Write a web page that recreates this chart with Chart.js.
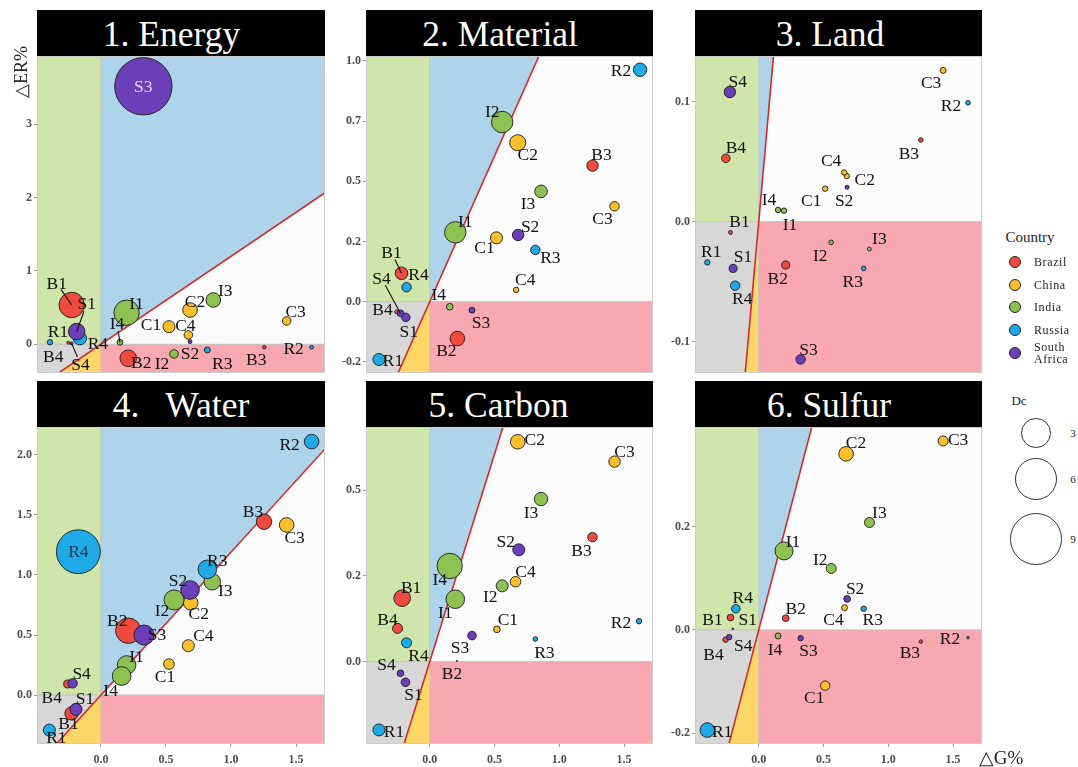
<!DOCTYPE html>
<html><head><meta charset="utf-8">
<script src="https://cdn.jsdelivr.net/npm/chart.js@4.4.0/dist/chart.umd.min.js"></script>
<style>
body{margin:0;background:#fff;width:1078px;height:767px;position:relative;overflow:hidden;font-family:'Liberation Serif',serif;}
.strip{position:absolute;background:#000;color:#fff;font-size:35.5px;text-align:center;white-space:pre;height:46px;line-height:48px;box-sizing:border-box;}
canvas{position:absolute;}
.abs{position:absolute;white-space:pre;color:#222;}
.dot{position:absolute;border-radius:50%;border:1px solid #222;box-sizing:border-box;}
</style></head><body>
<script>
// ---------- DATA ----------
const codes = ['B1','B2','B3','B4','C1','C2','C3','C4','I1','I2','I3','I4','R1','R2','R3','R4','S1','S2','S3','S4'];
const countries = ['Brazil','China','India','Russia','South Africa'];
const panelTitles = ['1. Energy','2. Material','3. Land','4.   Water','5. Carbon','6. Sulfur'];

const energyX = [-0.225,0.21,1.256,-0.251, 0.523,0.685,1.428,0.672, 0.197,0.562,0.864,0.146, -0.392,1.62,0.818,-0.162, -0.187,0.685,0.326,-0.226];
const energyY = [0.536,-0.191,-0.041,0.02, 0.24,0.468,0.318,0.127, 0.431,-0.132,0.604,0.027, 0.027,-0.041,-0.078,0.082, 0.172,0.036,3.52,0.012];
const energyDc = [2.18,0.93,0.04,0.03, 0.49,0.72,0.25,0.25, 2.18,0.25,0.72,0.12, 0.1,0.05,0.12,0.6, 0.93,0.05,11.1,0.03];

const materialX = [-0.218,0.213,1.256,-0.256, 0.515,0.679,1.426,0.667, 0.197,0.559,0.859,0.154, -0.392,1.623,0.815,-0.179, -0.185,0.682,0.326,-0.226];
const materialY = [0.118,-0.153,0.565,-0.042, 0.265,0.66,0.396,0.049, 0.288,0.746,0.458,-0.021, -0.24,0.963,0.215,0.06, -0.065,0.277,-0.035,-0.048];
const materialDc = [0.54,0.72,0.44,0.05, 0.49,0.87,0.3,0.1, 1.55,1.55,0.54,0.15, 0.49,0.61,0.3,0.3, 0.25,0.44,0.12,0.15];

const landX = [-0.218,0.208,1.251,-0.254, 0.513,0.679,1.423,0.659, 0.195,0.559,0.854,0.149, -0.397,1.615,0.81,-0.182, -0.198,0.682,0.323,-0.223];
const landY = [-0.0089,-0.0361,0.068,0.0528, 0.0275,0.038,0.126,0.041, 0.0092,-0.0172,-0.0228,0.0098, -0.0339,0.099,-0.0389,-0.0533, -0.0389,0.0287,-0.1147,0.108];
const landDc = [0.054,0.22,0.072,0.25, 0.1,0.1,0.12,0.1, 0.1,0.072,0.054,0.1, 0.1,0.072,0.072,0.3, 0.22,0.054,0.3,0.44];

const waterX = [-0.226,0.21,1.254,-0.256, 0.523,0.69,1.428,0.672, 0.197,0.562,0.856,0.159, -0.397,1.62,0.818,-0.174, -0.192,0.685,0.331,-0.218];
const waterY = [-0.153,0.536,1.444,0.092, 0.258,0.769,1.417,0.411, 0.25,0.792,0.944,0.158, -0.292,2.111,1.047,1.194, -0.119,0.875,0.5,0.097];
const waterDc = [0.61,2.18,0.8,0.22, 0.38,0.72,0.72,0.49, 1.17,1.35,0.93,1.17, 0.49,0.72,1.17,6.5, 0.49,1.17,1.35,0.3];

const carbonX = [-0.213,0.21,1.256,-0.249, 0.518,0.679,1.426,0.662, 0.197,0.559,0.859,0.154, -0.392,1.615,0.815,-0.179, -0.187,0.687,0.326,-0.226];
const carbonY = [0.185,0.002,0.363,0.097, 0.094,0.641,0.583,0.233, 0.182,0.221,0.474,0.279, -0.199,0.118,0.066,0.055, -0.06,0.326,0.076,-0.034];
const carbonDc = [0.93,0.005,0.3,0.34, 0.15,0.72,0.44,0.38, 1.17,0.49,0.61,2.18, 0.49,0.1,0.072,0.34, 0.25,0.49,0.25,0.15];

const sulfurX = [-0.218,0.208,1.251,-0.256, 0.513,0.674,1.423,0.662, 0.195,0.559,0.854,0.149, -0.397,1.615,0.81,-0.177, -0.2,0.682,0.323,-0.228];
const sulfurY = [0.024,0.0226,-0.0226,-0.019, -0.108,0.341,0.366,0.043, 0.153,0.119,0.208,-0.0116, -0.194,-0.0149,0.041,0.041, 0.002,0.06,-0.016,-0.014];
const sulfurDc = [0.15,0.15,0.04,0.1, 0.3,0.72,0.34,0.12, 1.1,0.34,0.34,0.12, 0.72,0.023,0.1,0.25, 0.01,0.15,0.1,0.1];

const decouplingSlopes = [1.2,1.21,1.21,1.19,1.21,0.96];

const yTicks1 = [0,1,2,3];           const yTickLabels1 = ['0','1','2','3'];
const yTicks2 = [-0.25,0,0.25,0.5,0.75,1]; const yTickLabels2 = ['-0.2','0.0','0.2','0.5','0.7','1.0'];
const yTicks3 = [-0.1,0,0.1];        const yTickLabels3 = ['-0.1','0.0','0.1'];
const yTicks4 = [0,0.5,1,1.5,2];     const yTickLabels4 = ['0.0','0.5','1.0','1.5','2.0'];
const yTicks5 = [0,0.25,0.5];        const yTickLabels5 = ['0.0','0.2','0.5'];
const yTicks6 = [-0.2,0,0.2];        const yTickLabels6 = ['-0.2','0.0','0.2'];
const xTicks = [0,0.5,1,1.5];        const xTickLabels = ['0.0','0.5','1.0','1.5'];
const dcLegendValues = [3,6,9];

// ---------- LAYOUT / STYLE ----------
const countryColors = ['#ef4a3e','#fbbf2b','#8dc253','#1ea9e8','#6a3fb8'];
const bg = {green:'#cfe5a9',blue:'#aed4eb',pink:'#f9a8b2',grey:'#d7d7d7',yellow:'#fcd768',white:'#fbfbfb'};
const rOf = dc => 8.6*Math.sqrt(dc);
const xRange = [-0.492,1.723];
const yRanges = [[-0.392,3.933],[-0.296,1.02],[-0.126,0.138],[-0.408,2.233],[-0.24,0.684],[-0.221,0.393]];
const plotRects = [[37,56,325,373],[366,56,653,373],[695,56,982,373],[37,427,325,744],[366,427,653,744],[695,427,982,744]];
const titleShift = [19,19,17,0,22,19];
const labelNudges = [
 {B1:[-15,-22],S1:[10,-28],R1:[8,-11],R4:[18,5],B4:[-15,14],S4:[9,21],I1:[10,-9],I4:[-3,-19],C1:[-18,-2],C4:[-3,-10],C2:[5,-9],I3:[12,-10],C3:[9,-10],R2:[-18,1],B3:[-8,12],R3:[15,13],I2:[-12,9],S2:[0,12],B2:[13,4],S3:[0,0]},
 {R2:[-19,1],I2:[-10,-11],C2:[10,12],B3:[9,-11],I3:[-13,12],C3:[-12,12],I1:[10,-11],C1:[-12,10],S2:[12,-9],R3:[15,7],C4:[9,-10],B1:[-10,-21],R4:[12,-13],S4:[-19,-35],B4:[-14,-2],S1:[3,14],I4:[-11,-12],S3:[9,12],B2:[-11,12],R1:[14,1]},
 {S4:[8,-11],B4:[10,-11],C3:[-12,12],R2:[-17,3],B3:[-12,13],C4:[-13,-12],C2:[18,3],S2:[-3,13],C1:[-14,12],I4:[-9,-11],I1:[6,14],B1:[9,-11],R1:[4,-11],S1:[10,-12],R4:[7,13],B2:[-8,13],I2:[-11,13],I3:[10,-11],R3:[-11,13],S3:[8,-10]},
 {R2:[-22,3],B3:[-11,-10],C3:[8,12],R4:[0,0],R3:[10,-9],I3:[13,9],S2:[-12,-10],I2:[-12,10],C2:[8,11],B2:[-11,-10],S3:[13,-1],C4:[15,-10],C1:[-4,12],I1:[10,-9],I4:[-11,14],S4:[9,-10],B4:[-16,13],S1:[9,-11],B1:[-3,10],R1:[7,7]},
 {C2:[17,-2],C3:[10,-10],I3:[-10,13],B3:[-11,13],S2:[-13,-8],I4:[-10,13],C4:[10,-10],I2:[-12,11],I1:[-10,13],B1:[9,-11],B4:[-10,-9],R2:[-18,1],C1:[11,-10],S3:[-12,12],R3:[9,13],R4:[12,13],B2:[-5,12],S4:[-14,-9],S1:[8,12],R1:[15,1]},
 {C3:[15,-2],C2:[10,-11],I3:[10,-10],I1:[9,-10],I2:[-11,-9],S2:[8,-11],C4:[-11,12],R3:[9,11],R4:[7,-11],B2:[10,-10],B1:[-18,2],S1:[15,-9],S4:[14,8],B4:[-12,15],I4:[-3,14],S3:[8,12],B3:[-11,11],R2:[-18,1],C1:[-11,12],R1:[15,1]}
];
const leaderLines = [['B1','S1','S4','I4'],['B1','S4'],[],[],[],[]];
const labelColorOverride = [{S3:'#e2dbf3'},{},{},{R4:'#1d3850'},{},{}];

const panels = [
 {x:energyX,y:energyY,dc:energyDc,yt:yTicks1,yl:yTickLabels1},
 {x:materialX,y:materialY,dc:materialDc,yt:yTicks2,yl:yTickLabels2},
 {x:landX,y:landY,dc:landDc,yt:yTicks3,yl:yTickLabels3},
 {x:waterX,y:waterY,dc:waterDc,yt:yTicks4,yl:yTickLabels4},
 {x:carbonX,y:carbonY,dc:carbonDc,yt:yTicks5,yl:yTickLabels5},
 {x:sulfurX,y:sulfurY,dc:sulfurDc,yt:yTicks6,yl:yTickLabels6}
];

const quadPlugin = {
  id:'quad',
  beforeDatasetsDraw(chart){
    const o = chart.options.plugins.quad;
    const {ctx, chartArea:a, scales:{x,y}} = chart;
    const k = o.slope;
    const X = v=>x.getPixelForValue(v), Y = v=>y.getPixelForValue(v);
    const x0 = X(0), y0 = Y(0);
    const xa = x.min, xb = x.max;
    ctx.save();
    ctx.beginPath(); ctx.rect(a.left,a.top,a.width,a.height); ctx.clip();
    ctx.fillStyle=bg.green; ctx.fillRect(a.left,a.top,x0-a.left,y0-a.top);
    ctx.fillStyle=bg.grey; ctx.fillRect(a.left,y0,x0-a.left,a.bottom-y0);
    ctx.fillStyle=bg.blue; ctx.fillRect(x0,a.top,a.right-x0,y0-a.top);
    ctx.fillStyle=bg.pink; ctx.fillRect(x0,y0,a.right-x0,a.bottom-y0);
    ctx.save(); ctx.beginPath(); ctx.rect(x0,a.top,a.right-x0,y0-a.top); ctx.clip();
    ctx.beginPath(); ctx.moveTo(x0,y0); ctx.lineTo(X(xb),Y(k*xb)); ctx.lineTo(X(xb),y0); ctx.closePath();
    ctx.fillStyle=bg.white; ctx.fill(); ctx.restore();
    ctx.save(); ctx.beginPath(); ctx.rect(a.left,y0,x0-a.left,a.bottom-y0); ctx.clip();
    ctx.beginPath(); ctx.moveTo(x0,y0); ctx.lineTo(X(xa),Y(k*xa)); ctx.lineTo(x0,Y(k*xa)); ctx.closePath();
    ctx.fillStyle=bg.yellow; ctx.fill(); ctx.restore();
    ctx.strokeStyle='#c2c2c2'; ctx.lineWidth=1;
    ctx.beginPath(); ctx.moveTo(x0,a.top); ctx.lineTo(x0,a.bottom); ctx.moveTo(a.left,y0); ctx.lineTo(a.right,y0); ctx.stroke();
    ctx.strokeStyle='#d42a2a'; ctx.lineWidth=1.6;
    ctx.beginPath(); ctx.moveTo(X(xa),Y(k*xa)); ctx.lineTo(X(xb),Y(k*xb)); ctx.stroke();
    ctx.restore();
    ctx.save(); ctx.strokeStyle='#cccccc'; ctx.lineWidth=1;
    ctx.strokeRect(a.left+0.5,a.top+0.5,a.width-1,a.height-1); ctx.restore();
  },
  afterDatasetsDraw(chart){
    const o = chart.options.plugins.quad;
    const ctx = chart.ctx;
    ctx.save();
    ctx.font = '17.5px "Liberation Serif"';
    ctx.textAlign='center'; ctx.textBaseline='middle';
    chart.data.datasets.forEach((ds,di)=>{
      const meta = chart.getDatasetMeta(di);
      meta.data.forEach((el,i)=>{
        const code = ds.data[i].code;
        const n = o.nudges[code] || [0,-10];
        const lx = el.x+n[0], ly = el.y+n[1];
        if (o.leaders.includes(code)) {
          const dx=lx-el.x, dy=ly-el.y, d=Math.hypot(dx,dy);
          ctx.strokeStyle='#111'; ctx.lineWidth=1.1;
          ctx.beginPath(); ctx.moveTo(el.x,el.y); ctx.lineTo(el.x+dx*(d-8)/d, el.y+dy*(d-8)/d); ctx.stroke();
        }
        ctx.fillStyle = o.colors[code] || '#111';
        ctx.fillText(code,lx,ly+1);
      });
    });
    ctx.restore();
  }
};

const tickFont = {family:'Liberation Serif',size:12,weight:'bold'};
panels.forEach((p,pi)=>{
  const [L,T,R,B] = plotRects[pi];
  const bottomRow = pi>=3;
  const xH = bottomRow?26:0;
  const padT=10,padB=10,padR=10,yW=37;
  const cv = document.createElement('canvas');
  cv.width = yW+(R-L)+padR; cv.height = padT+(B-T)+xH+padB;
  cv.style.left=(L-yW)+'px'; cv.style.top=(T-padT)+'px';
  document.body.appendChild(cv);
  const strip = document.createElement('div');
  strip.className='strip'; strip.textContent=panelTitles[pi];
  strip.style.left=L+'px'; strip.style.width=(R-L)+'px';
  strip.style.paddingRight=titleShift[pi]+'px';
  strip.style.top=(bottomRow?381:10)+'px';
  document.body.appendChild(strip);
  const datasets = countries.map((c,ci)=>{
    const pts=[];
    codes.forEach((code,i)=>{ if(code[0]===c[0]) pts.push({x:p.x[i],y:p.y[i],r:rOf(p.dc[i]),code}); });
    return {label:c,data:pts,backgroundColor:countryColors[ci],borderColor:'#1a1a1a',borderWidth:0.9,order:4-ci};
  });
  new Chart(cv,{
    type:'bubble',
    data:{datasets},
    options:{
      responsive:false,animation:false,devicePixelRatio:1,
      layout:{autoPadding:false,padding:{top:padT,bottom:padB,right:padR,left:0}},
      plugins:{legend:{display:false},tooltip:{enabled:false},
        quad:{slope:decouplingSlopes[pi],nudges:labelNudges[pi],leaders:leaderLines[pi],colors:labelColorOverride[pi]}},
      scales:{
        x:{type:'linear',min:xRange[0],max:xRange[1],
          afterBuildTicks:s=>{s.ticks=xTicks.map(v=>({value:v}));},
          afterFit:s=>{s.height=xH;},
          ticks:{display:bottomRow,font:tickFont,color:'#4d4d4d',padding:6,callback:(v,i)=>xTickLabels[i]},
          grid:{display:bottomRow,drawOnChartArea:false,drawTicks:true,tickLength:3,color:'#999'},
          border:{display:false}},
        y:{type:'linear',min:yRanges[pi][0],max:yRanges[pi][1],
          afterBuildTicks:s=>{s.ticks=p.yt.map(v=>({value:v}));},
          afterFit:s=>{s.width=yW;},
          ticks:{font:tickFont,color:'#4d4d4d',padding:2,callback:(v,i)=>p.yl[i]},
          grid:{drawOnChartArea:false,drawTicks:true,tickLength:3,color:'#999'},
          border:{display:false}}
      }
    },
    plugins:[quadPlugin]
  });
});

// axis titles
function addText(txt,x,y,size,extra){
  const d=document.createElement('div'); d.className='abs'; d.textContent=txt;
  d.style.fontSize=size+'px'; d.style.left=x+'px'; d.style.top=y+'px';
  d.style.transform='translate(-50%,-50%)'+(extra||'');
  document.body.appendChild(d); return d;
}
addText('△ER%',21,72,18,' rotate(-90deg)');
addText('△G%',1001,757,19);

// country legend
addText('Country',1030,237,15);
const legendY=[262,284.5,307,330,352.5];
countries.forEach((c,ci)=>{
  const d=document.createElement('div'); d.className='dot';
  d.style.width='12px'; d.style.height='12px'; d.style.left=(1015-6)+'px'; d.style.top=(legendY[ci]-6)+'px';
  d.style.background=countryColors[ci]; document.body.appendChild(d);
  const t=document.createElement('div'); t.className='abs';
  t.style.fontSize='12px'; t.style.letterSpacing='0.6px'; t.style.left='1034px'; t.style.lineHeight='12px';
  if(c==='South Africa'){ t.textContent='South\nAfrica'; t.style.top=(legendY[ci]-12)+'px'; }
  else { t.textContent=c; t.style.top=(legendY[ci]-6)+'px'; }
  document.body.appendChild(t);
});

// Dc legend
addText('Dc',1019,401,13);
const dcY=[433,479,539];
dcLegendValues.forEach((v,i)=>{
  const r=rOf(v);
  const d=document.createElement('div'); d.className='dot';
  d.style.width=(2*r)+'px'; d.style.height=(2*r)+'px'; d.style.left=(1036-r)+'px'; d.style.top=(dcY[i]-r)+'px';
  d.style.background='#fff'; d.style.borderColor='#333'; document.body.appendChild(d);
  addText(String(v),1073,dcY[i],11);
});
</script>
</body></html>
